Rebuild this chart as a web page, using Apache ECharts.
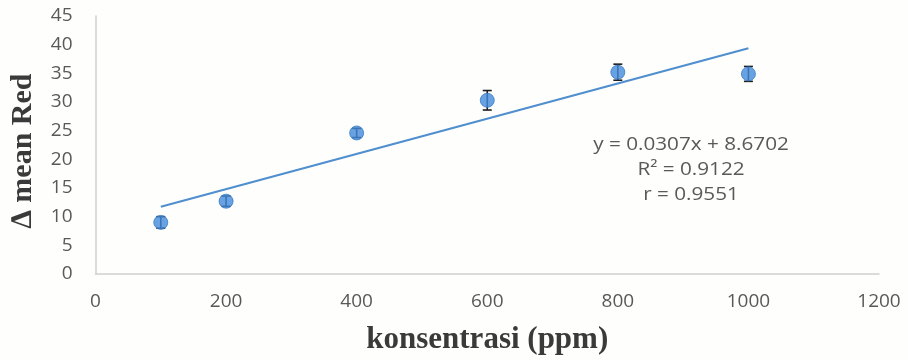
<!DOCTYPE html>
<html>
<head>
<meta charset="utf-8">
<script src="https://cdn.jsdelivr.net/npm/echarts@6/dist/echarts.min.js"></script>
<style>
  html, body { margin: 0; padding: 0; background: #fefefc; }
  #chart { width: 908px; height: 360px; }
</style>
</head>
<body>
<div id="chart"></div>
<script>
// Concentration (ppm) and measured change in mean red channel
const concentrations = [100, 200, 400, 600, 800, 1000];
const meanRed = [9.0, 12.7, 24.6, 30.3, 35.2, 34.9];
const errors = [1.0, 0.9, 0.8, 1.7, 1.4, 1.3];

// Linear regression reported for the data
const slope = 0.0307;
const intercept = 8.6702;
const fitLabels = ['y = 0.0307x + 8.6702', 'R\u00b2 = 0.9122', 'r = 0.9551'];

const xTicks = { min: 0, max: 1200, interval: 200 };
const yTicks = { min: 0, max: 45, interval: 5 };

const points = concentrations.map((c, i) => [c, meanRed[i]]);
const errData = concentrations.map((c, i) => [c, meanRed[i], errors[i]]);
const xFirst = concentrations[0];
const xLast = concentrations[concentrations.length - 1];
const fitLine = [[xFirst, slope * xFirst + intercept], [xLast, slope * xLast + intercept]];

const labelFont = 'Open Sans';
const labelColor = '#595959';
const titleStyle = { fontFamily: 'Liberation Serif', fontWeight: 'bold', color: '#3a3a3a' };

const chart = echarts.init(document.getElementById('chart'), null, { renderer: 'canvas' });

chart.setOption({
  backgroundColor: '#fefefc',
  animation: false,
  grid: { left: 95.5, right: 29, top: 16, bottom: 81 },
  xAxis: {
    type: 'value',
    min: xTicks.min, max: xTicks.max, interval: xTicks.interval,
    name: 'konsentrasi (ppm)',
    nameLocation: 'middle',
    nameGap: 50,
    nameTextStyle: Object.assign({ fontSize: 31 }, titleStyle),
    axisLine: { show: true, lineStyle: { color: '#d0d0d0', width: 1.5 } },
    axisTick: { show: false },
    splitLine: { show: false },
    axisLabel: {
      fontFamily: labelFont, fontSize: 19, color: labelColor, margin: 18,
      formatter: v => String(v)
    }
  },
  yAxis: {
    type: 'value',
    min: yTicks.min, max: yTicks.max, interval: yTicks.interval,
    name: '\u2206 mean Red',
    nameLocation: 'middle',
    nameGap: 57,
    nameTextStyle: Object.assign({ fontSize: 30, padding: [0, 12, 0, 0] }, titleStyle),
    axisLine: { show: true, lineStyle: { color: '#d0d0d0', width: 1.5 } },
    axisTick: { show: false },
    splitLine: { show: false },
    axisLabel: {
      fontFamily: labelFont, fontSize: 19, color: labelColor, margin: 23,
      formatter: v => String(v)
    }
  },
  series: [
    {
      name: 'trend',
      type: 'line',
      data: fitLine,
      symbol: 'none',
      lineStyle: { color: '#4f8fcf', width: 2.2 },
      z: 2
    },
    {
      name: 'error',
      type: 'custom',
      data: errData,
      z: 3,
      renderItem: function (params, api) {
        const x = api.value(0), y = api.value(1), e = api.value(2);
        const top = api.coord([x, y + e]);
        const bot = api.coord([x, y - e]);
        const hw = 4.5;
        const style = { stroke: '#1e1e1e', lineWidth: 1.6 };
        return {
          type: 'group',
          children: [
            { type: 'line', shape: { x1: top[0], y1: top[1], x2: bot[0], y2: bot[1] }, style: style },
            { type: 'line', shape: { x1: top[0] - hw, y1: top[1], x2: top[0] + hw, y2: top[1] }, style: style },
            { type: 'line', shape: { x1: bot[0] - hw, y1: bot[1], x2: bot[0] + hw, y2: bot[1] }, style: style }
          ]
        };
      }
    },
    {
      name: 'mean red',
      type: 'scatter',
      data: points,
      symbol: 'circle',
      symbolSize: 14,
      itemStyle: { color: '#428bdb', borderColor: '#3a7cc6', borderWidth: 1 },
      z: 4
    }
  ],
  graphic: fitLabels.map((t, i) => ({
    type: 'text',
    x: 691,
    y: 145 + i * 25,
    scaleX: 1.15,
    style: {
      text: t,
      fontFamily: labelFont,
      fontSize: 18,
      fill: labelColor,
      align: 'center',
      verticalAlign: 'middle'
    }
  }))
});
</script>
</body>
</html>
